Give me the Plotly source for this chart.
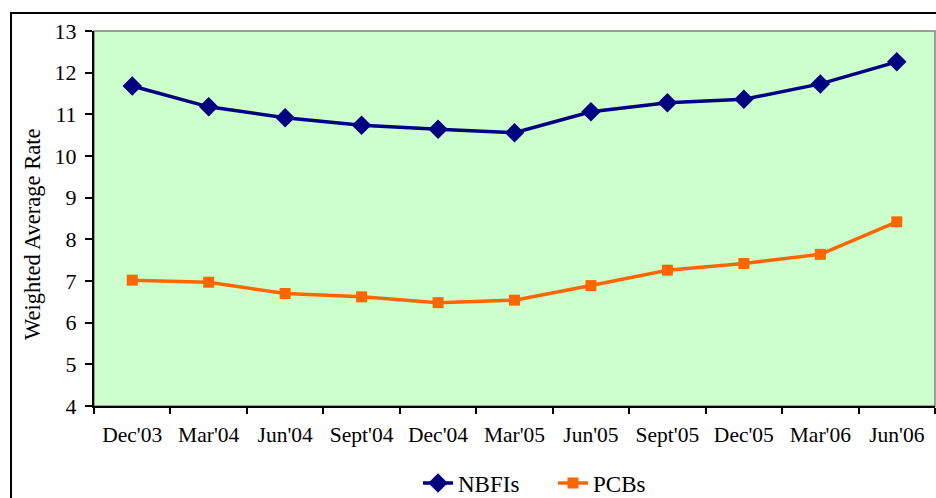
import plotly.graph_objects as go

categories = ["Dec'03", "Mar'04", "Jun'04", "Sept'04", "Dec'04", "Mar'05",
              "Jun'05", "Sept'05", "Dec'05", "Mar'06", "Jun'06"]
nbfis = [11.68, 11.18, 10.92, 10.74, 10.64, 10.56, 11.06, 11.28, 11.36, 11.73, 12.26]
pcbs = [7.02, 6.97, 6.70, 6.62, 6.48, 6.54, 6.89, 7.26, 7.42, 7.64, 8.42]
y_ticks = [4, 5, 6, 7, 8, 9, 10, 11, 12, 13]

W, H = 936, 498
L, R, T, B = 94, 935, 31, 406  # plot area in pixels


def px(x):
    return (x - L) / (R - L)


def py(y):
    return (B - y) / (B - T)


FONT = "Liberation Serif, Times New Roman, serif"

fig = go.Figure()
fig.add_trace(go.Scatter(
    x=categories, y=nbfis, name="NBFIs", mode="lines+markers",
    line=dict(color="#000080", width=3.5),
    marker=dict(symbol="diamond", size=15, color="#000080"),
))
fig.add_trace(go.Scatter(
    x=categories, y=pcbs, name="PCBs", mode="lines+markers",
    line=dict(color="#FF6600", width=3.5),
    marker=dict(symbol="square", size=11, color="#FF6600"),
))

fig.update_layout(
    width=W, height=H,
    margin=dict(l=L, r=W - R, t=T, b=H - B, pad=0, autoexpand=False),
    paper_bgcolor="white",
    plot_bgcolor="#CCFFCC",
    font=dict(family=FONT, size=21, color="black"),
    showlegend=True,
    legend=dict(orientation="h", x=px(418), xanchor="left", y=py(483), yanchor="middle",
                font=dict(size=23, family=FONT), bgcolor="rgba(0,0,0,0)",
                entrywidth=90, entrywidthmode="pixels", tracegroupgap=0),
    xaxis=dict(
        type="category", range=[-0.5, len(categories) - 0.5], automargin=False,
        tickson="boundaries", ticks="outside", ticklen=6, tickwidth=1.5, tickcolor="black",
        showline=True, linecolor="black", linewidth=2, showgrid=False, zeroline=False,
        tickfont=dict(size=21.5, family=FONT), ticklabelstandoff=8,
    ),
    yaxis=dict(
        range=[4, 13], tickvals=y_ticks, ticktext=[str(v) for v in y_ticks], automargin=False,
        ticks="outside", ticklen=7, tickwidth=1.5, tickcolor="black",
        showline=True, linecolor="black", linewidth=2, showgrid=False, zeroline=False,
        tickfont=dict(size=22, family=FONT), ticklabelstandoff=4,
    ),
    shapes=[
        dict(type="rect", xref="paper", yref="paper", x0=0, x1=1, y0=0, y1=1,
             line=dict(color="#808080", width=1.5), layer="below"),
        dict(type="rect", xref="paper", yref="paper", x0=px(11), x1=px(1200),
             y0=py(13), y1=py(900), line=dict(color="black", width=2)),
    ],
    annotations=[
        dict(text="Weighted Average Rate", xref="paper", yref="paper",
             x=px(32), y=py(235), xanchor="center", yanchor="middle",
             textangle=-90, showarrow=False, font=dict(size=22.5, family=FONT)),
    ],
)

fig.write_html("out.html", config={"displayModeBar": False},
               post_script="document.body.style.margin='0';document.body.style.overflow='hidden';")
